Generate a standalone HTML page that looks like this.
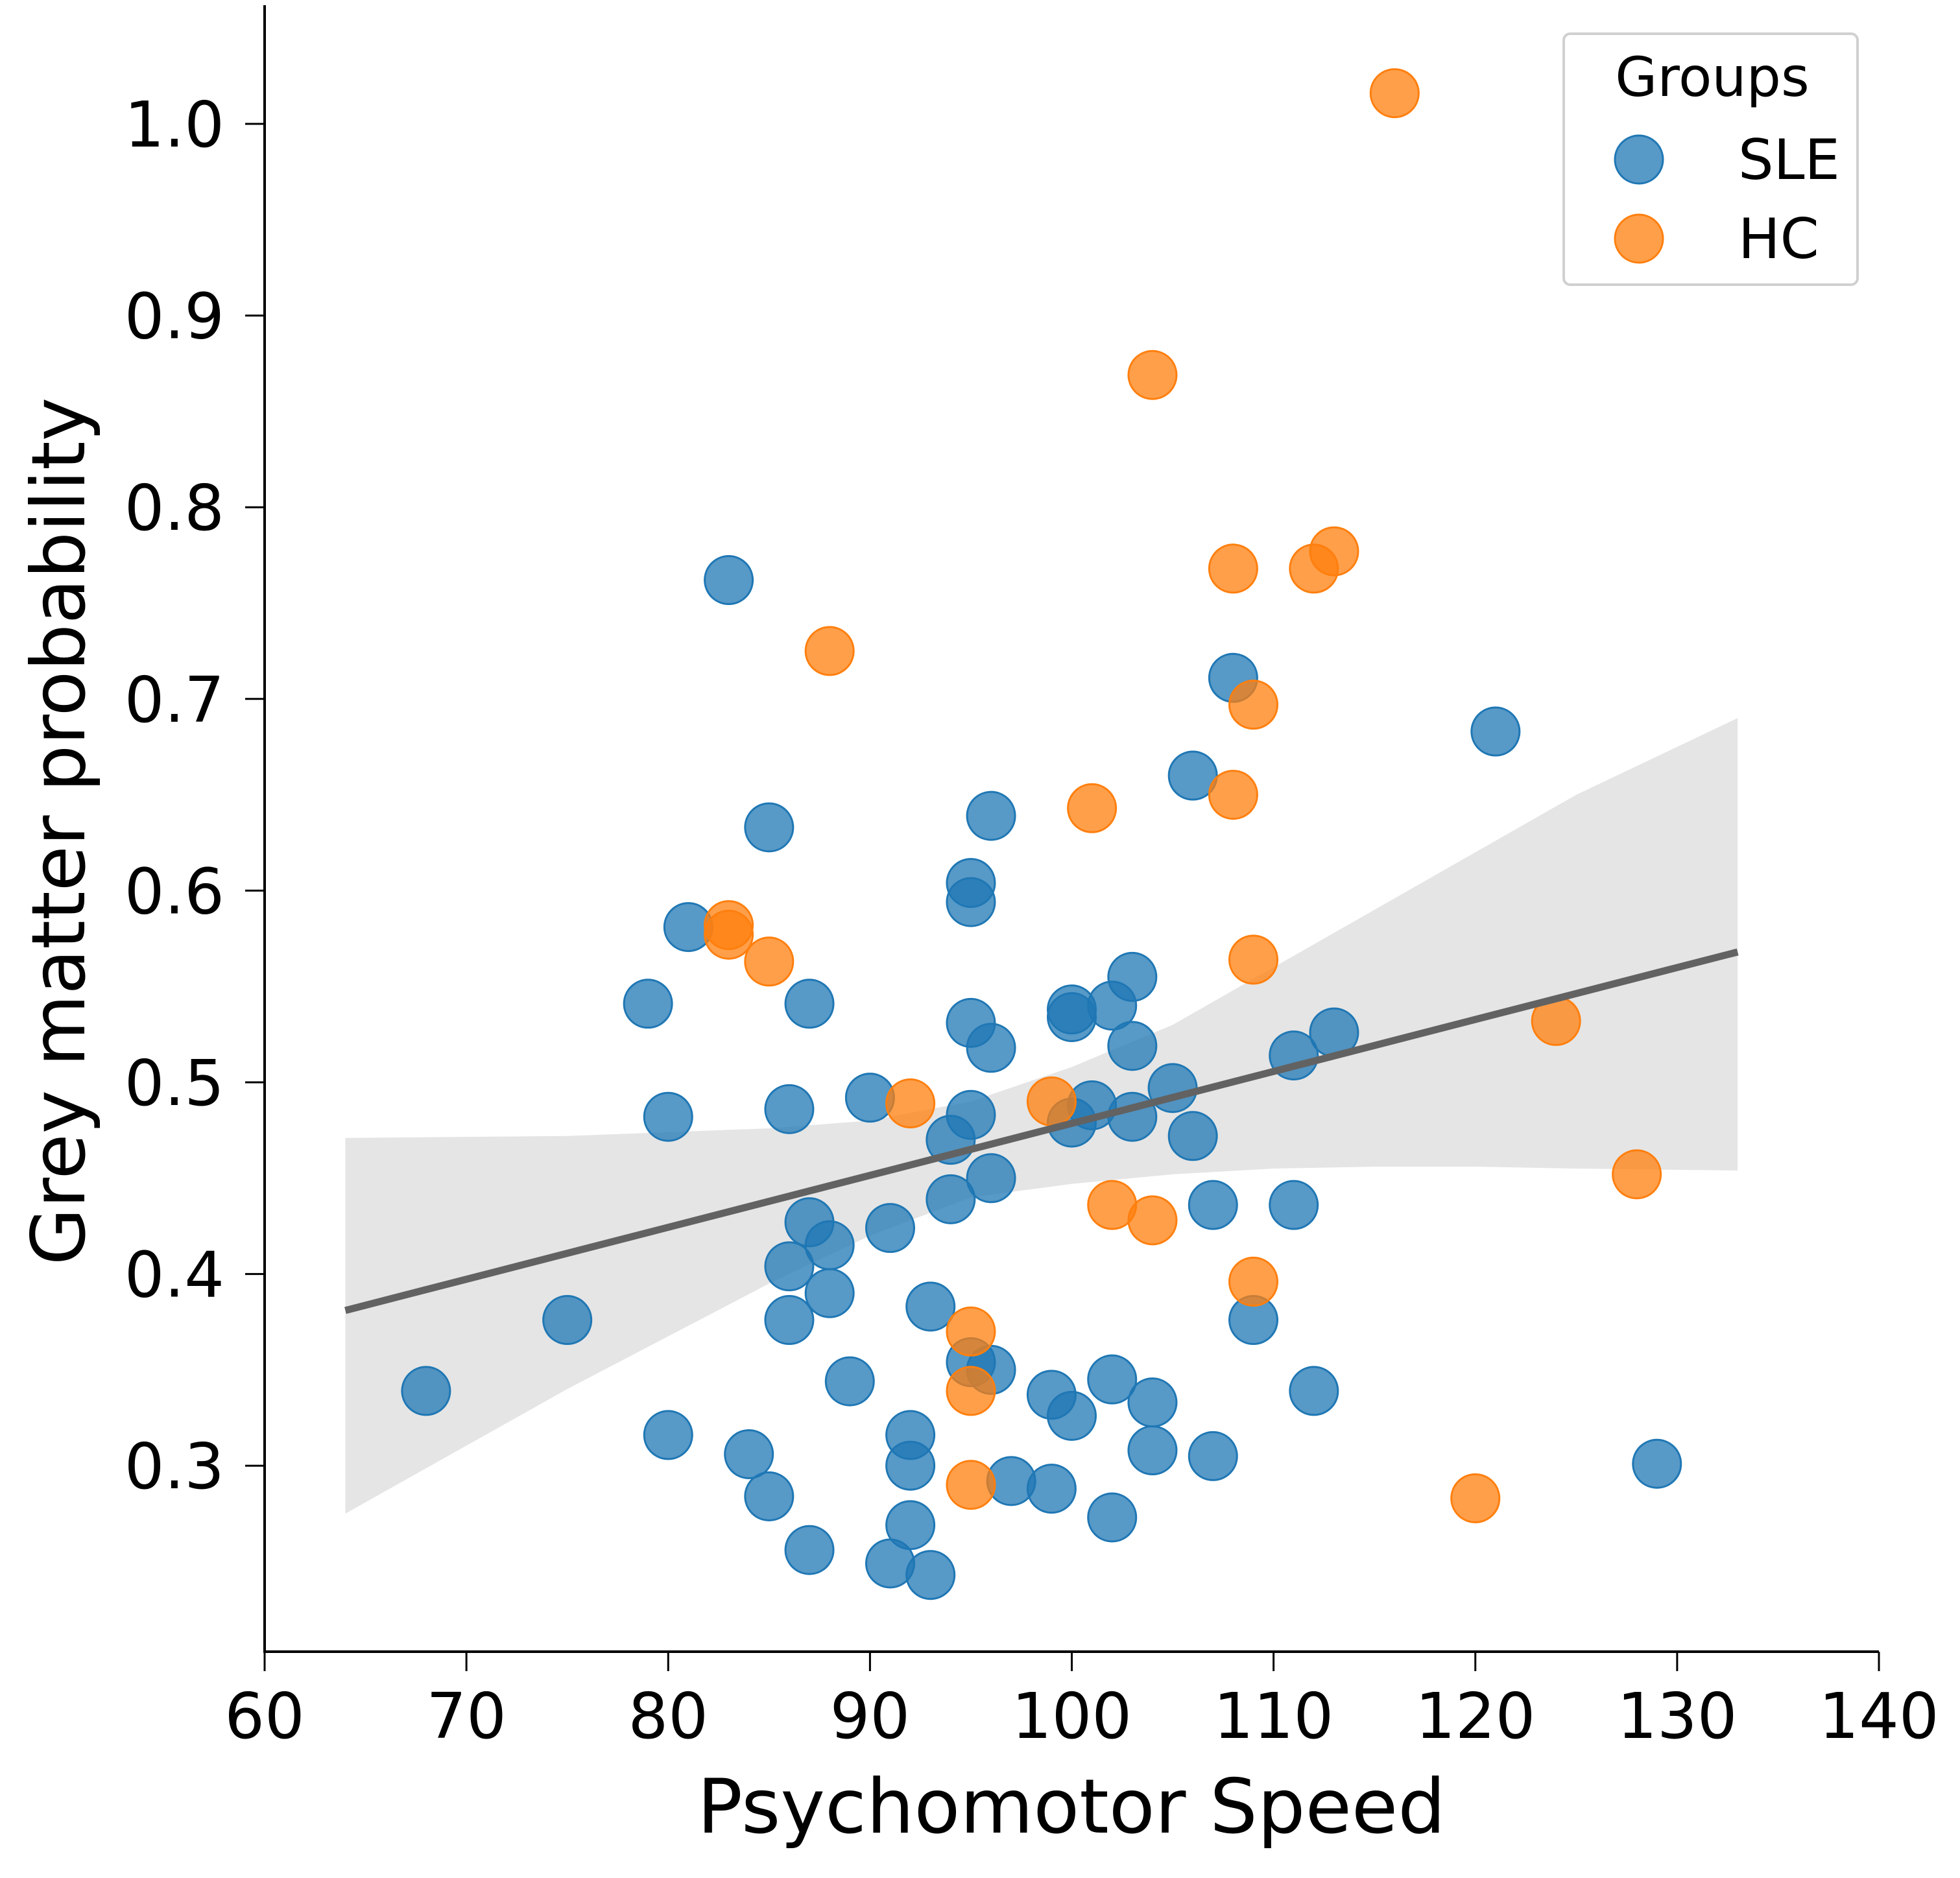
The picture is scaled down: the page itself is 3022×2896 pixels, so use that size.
<!DOCTYPE html>
<html><head><meta charset="utf-8"><style>
html,body{margin:0;padding:0;background:#fff;}
svg{display:block;font-family:"DejaVu Sans","Liberation Sans",sans-serif;}
</style></head><body>
<svg id="chart" width="3022" height="2896" viewBox="0 0 3022 2896"></svg>
<script>
const xTicks=[60,70,80,90,100,110,120,130,140];
const yTicks=[0.3,0.4,0.5,0.6,0.7,0.8,0.9,1.0];
const sleX=[83,108,121,106,85,96,95,95,81,79,87,103,102,100,100,95,96,103,113,111,105,90,86,80,95,101,103,100,94,106,96,94,107,111,87,91,88,86,88,93,75,86,109,95,96,89,102,68,112,99,104,100,80,92,84,104,107,92,129,97,85,99,102,92,87,91,93];
const sleY=[0.762,0.711,0.683,0.660,0.633,0.639,0.604,0.594,0.581,0.541,0.541,0.555,0.540,0.538,0.534,0.531,0.518,0.519,0.526,0.514,0.497,0.492,0.486,0.482,0.483,0.488,0.482,0.479,0.470,0.472,0.450,0.439,0.436,0.436,0.427,0.424,0.415,0.404,0.390,0.383,0.376,0.376,0.376,0.354,0.350,0.344,0.345,0.339,0.339,0.337,0.333,0.326,0.316,0.316,0.306,0.308,0.305,0.300,0.301,0.292,0.284,0.288,0.273,0.269,0.256,0.249,0.243];
const hcX=[116,104,108,113,112,88,109,101,108,83,83,85,109,124,92,99,102,104,109,95,95,128,120,95];
const hcY=[1.016,0.869,0.768,0.777,0.768,0.725,0.697,0.643,0.650,0.582,0.577,0.563,0.564,0.532,0.489,0.490,0.436,0.428,0.396,0.370,0.339,0.452,0.283,0.290];
const fitX=[64,133];
const fitY=[0.381,0.568];
const bandX=[64,75,85,90,95,100,105,110,115,120,125,133];
const bandUpper=[0.471,0.472,0.476,0.480,0.490,0.508,0.530,0.560,0.590,0.620,0.650,0.690];
const bandLower=[0.275,0.340,0.395,0.420,0.440,0.447,0.452,0.455,0.456,0.456,0.455,0.454];

const NS="http://www.w3.org/2000/svg";
const svg=document.getElementById('chart');
const X0=408,X1=2897,Y0=2547;
function sx(v){return X0+(v-60)/80*(X1-X0);}
function sy(v){return 191+(1.0-v)/0.1*295.6;}
function mk(tag,attrs,parent){const e=document.createElementNS(NS,tag);for(const k in attrs)e.setAttribute(k,attrs[k]);(parent||svg).appendChild(e);return e;}

let pts=[];
for(let i=0;i<bandX.length;i++)pts.push(sx(bandX[i])+','+sy(bandUpper[i]));
for(let i=bandX.length-1;i>=0;i--)pts.push(sx(bandX[i])+','+sy(bandLower[i]));
const band=mk('polygon',{points:pts.join(' '),fill:'#e5e5e5'});



function drawPts(xs,ys,col,name){
  for(let i=0;i<xs.length;i++){
    const c=mk('circle',{cx:sx(xs[i]),cy:sy(ys[i]),r:37,fill:col,'fill-opacity':0.75,stroke:col,'stroke-width':3});
    
    
  }
}
drawPts(sleX,sleY,'#1f77b4','point-sle');
drawPts(hcX,hcY,'#ff7f0e','point-hc');

const ln=mk('line',{x1:sx(fitX[0]),y1:sy(fitY[0]),x2:sx(fitX[1]),y2:sy(fitY[1]),stroke:'#626262','stroke-width':11});



const ya=mk('line',{x1:X0,y1:8,x2:X0,y2:Y0+2,stroke:'#000','stroke-width':4});


const xa=mk('line',{x1:X0-2,y1:Y0,x2:X1,y2:Y0,stroke:'#000','stroke-width':4});



xTicks.forEach(v=>{
  const t=mk('line',{x1:sx(v),y1:Y0,x2:sx(v),y2:Y0+30,stroke:'#000','stroke-width':3});
  
  
  const tx=mk('text',{x:sx(v),y:2680,'font-size':97,'text-anchor':'middle',fill:'#000'});
  tx.textContent=v;
  
  
});
yTicks.forEach(v=>{
  const t=mk('line',{x1:X0-30,y1:sy(v),x2:X0,y2:sy(v),stroke:'#000','stroke-width':3});
  
  
  const tx=mk('text',{x:346,y:sy(v)+35,'font-size':97,'text-anchor':'end',fill:'#000'});
  tx.textContent=v.toFixed(1);
  
  
});

const xt=mk('text',{x:1652,y:2826,'font-size':116,'text-anchor':'middle',fill:'#000'});
xt.textContent='Psychomotor Speed';


const yt=mk('text',{x:0,y:0,'font-size':114,'text-anchor':'middle',fill:'#000',transform:'translate(130,1282) rotate(-90)'});
yt.textContent='Grey matter probability';



const lg=mk('g',{});


const lb=mk('rect',{x:2411,y:52,width:453,height:387,rx:10,fill:'#fff',stroke:'#d0d0d0','stroke-width':4},lg);


const lt=mk('text',{x:2640,y:148,'font-size':84,'text-anchor':'middle',fill:'#000'},lg);
lt.textContent='Groups';


[['SLE','#1f77b4',246],['HC','#ff7f0e',368]].forEach(e=>{
  const c=mk('circle',{cx:2527,cy:e[2],r:37,fill:e[1],'fill-opacity':0.75,stroke:e[1],'stroke-width':3},lg);
  
  
  const t=mk('text',{x:2680,y:e[2]+30,'font-size':86,fill:'#000'},lg);
  t.textContent=e[0];
  
  
});
</script>
</body></html>
